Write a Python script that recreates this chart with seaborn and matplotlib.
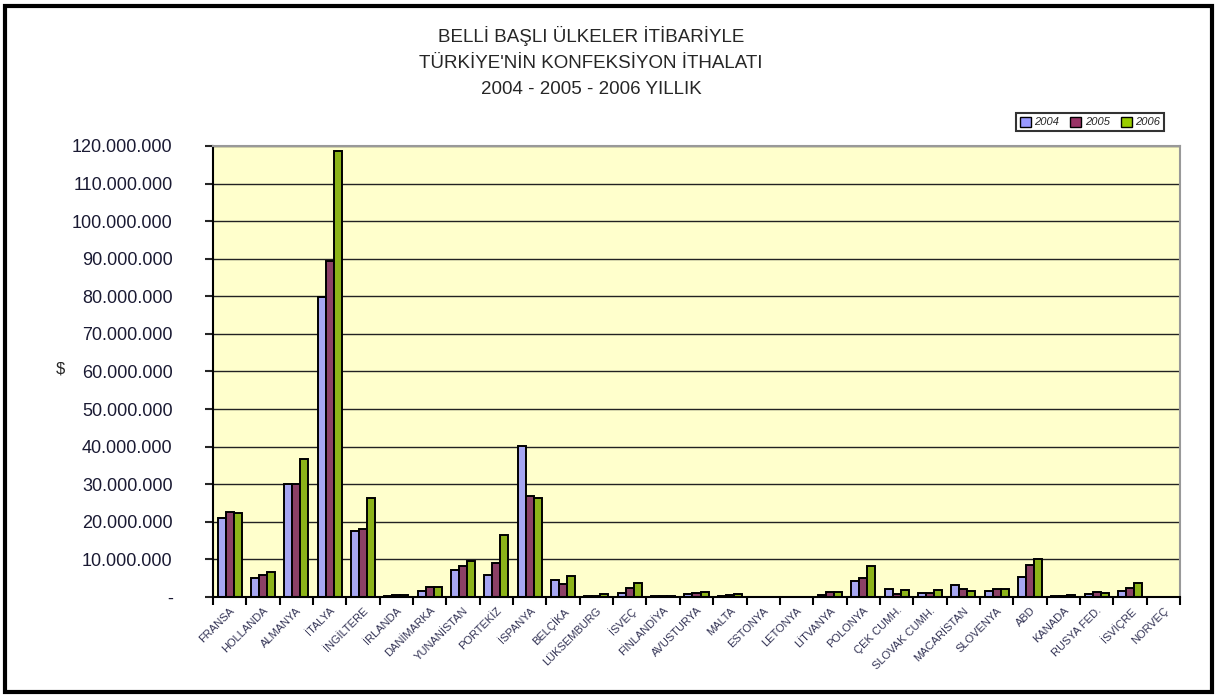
import numpy as np
import pandas as pd
import matplotlib
matplotlib.use("Agg")
import matplotlib.pyplot as plt
import matplotlib.ticker as mticker
from matplotlib.patches import Rectangle, Patch
import seaborn as sns

countries = ['FRANSA', 'HOLLANDA', 'ALMANYA', 'İTALYA', 'İNGİLTERE', 'İRLANDA',
             'DANİMARKA', 'YUNANİSTAN', 'PORTEKİZ', 'İSPANYA', 'BELÇİKA',
             'LÜKSEMBURG', 'İSVEÇ', 'FİNLANDİYA', 'AVUSTURYA', 'MALTA', 'ESTONYA',
             'LETONYA', 'LİTVANYA', 'POLONYA', 'ÇEK CUMH.', 'SLOVAK CUMH.',
             'MACARİSTAN', 'SLOVENYA', 'ABD', 'KANADA', 'RUSYA FED.', 'İSVİÇRE',
             'NORVEÇ']

# values in million $
y2004 = [21.1, 5.1, 30.1, 79.8, 17.6, 0.3, 1.6, 7.1, 5.9, 40.3, 4.4,
         0.2, 1.1, 0.2, 0.7, 0.2, 0.1, 0.1, 0.6, 4.3, 2.0, 1.1,
         3.1, 1.6, 5.4, 0.2, 0.7, 1.6, 0.1]
y2005 = [22.6, 5.8, 30.1, 89.4, 18.1, 0.4, 2.7, 8.2, 9.0, 27.0, 3.5,
         0.2, 2.5, 0.2, 1.1, 0.6, 0.1, 0.1, 1.4, 5.1, 0.9, 1.1,
         2.0, 2.2, 8.6, 0.3, 1.2, 2.5, 0.1]
y2006 = [22.3, 6.6, 36.8, 118.8, 26.4, 0.6, 2.7, 9.6, 16.4, 26.3, 5.5,
         0.7, 3.7, 0.2, 1.3, 0.8, 0.1, 0.1, 1.2, 8.2, 1.8, 1.8,
         1.5, 2.2, 10.2, 0.4, 1.1, 3.7, 0.1]

years = ['2004', '2005', '2006']
colors = ['#9999FF', '#993366', '#99CC00']

df = pd.DataFrame({
    'Ulke': countries * 3,
    'Yil': [years[0]] * len(countries) + [years[1]] * len(countries) + [years[2]] * len(countries),
    'Deger': [v * 1e6 for v in y2004 + y2005 + y2006],
})

sns.set_style("white")
plt.rcParams['font.family'] = ['Liberation Sans', 'DejaVu Sans']

fig = plt.figure(figsize=(12.19, 6.98), dpi=100)
ax = fig.add_axes([213 / 1219, 1 - 597 / 698, (1180 - 213) / 1219, (597 - 146) / 698])
ax.set_facecolor('#FFFFCC')

sns.barplot(data=df, x='Ulke', y='Deger', hue='Yil', palette=colors,
            width=0.72, edgecolor='black', linewidth=1.4, ax=ax, legend=False)

ax.set_ylim(0, 120e6)
ax.set_xlim(-0.5, len(countries) - 0.5)
ax.yaxis.set_major_locator(mticker.MultipleLocator(10e6))
ax.yaxis.set_major_formatter(mticker.FuncFormatter(
    lambda v, p: '-' if v == 0 else f'{int(v):,}'.replace(',', '.')))
ax.grid(axis='y', color='#222222', linewidth=1)
ax.set_axisbelow(True)

ax.set_xticks(range(len(countries)))
ax.set_xticklabels(countries, rotation=45, ha='right', rotation_mode='anchor',
                   fontsize=8, color='#333355')
ax.tick_params(axis='x', length=0, pad=6)
ax.set_xticks(np.arange(-0.5, len(countries), 1), minor=True)
ax.tick_params(axis='x', which='minor', length=6, width=1.5, color='black', direction='out', bottom=True)
ax.tick_params(axis='y', length=6, width=1.5, direction='out', left=True, pad=23,
               labelsize=13, labelcolor='#1a1a33')

ax.set_xlabel('')
ax.set_ylabel('$', rotation=0, fontsize=12, labelpad=0)
ax.yaxis.set_label_coords(-0.158, 0.49)

for s in ['left', 'bottom']:
    ax.spines[s].set_color('black')
    ax.spines[s].set_linewidth(1.5)
for s in ['top', 'right']:
    ax.spines[s].set_color('#999999')
    ax.spines[s].set_linewidth(1.5)

fig.text(0.485, 1 - 36 / 698, 'BELLİ BAŞLI ÜLKELER İTİBARİYLE', ha='center', va='center', fontsize=13.5)
fig.text(0.485, 1 - 63 / 698, "TÜRKİYE'NİN KONFEKSİYON İTHALATI", ha='center', va='center', fontsize=13.5)
fig.text(0.485, 1 - 90 / 698, '2004 - 2005 - 2006 YILLIK', ha='center', va='center', fontsize=13.5)

handles = [Patch(facecolor=c, edgecolor='black', linewidth=1) for c in colors]
leg = fig.legend(handles, years, loc='center', bbox_to_anchor=(1090 / 1219, 1 - 122 / 698),
                 ncol=3, frameon=True, handlelength=1.0, handleheight=1.0,
                 handletextpad=0.3, columnspacing=1.0, borderpad=0.3, fancybox=False,
                 prop={'style': 'italic', 'size': 8})
leg.get_frame().set_edgecolor('black')
leg.get_frame().set_linewidth(1.5)

fig.patches.append(Rectangle((5 / 1219, 6 / 698), 1207 / 1219, 686 / 698, transform=fig.transFigure,
                             fill=False, edgecolor='black', linewidth=3))

fig.savefig('out.png', dpi=100)
